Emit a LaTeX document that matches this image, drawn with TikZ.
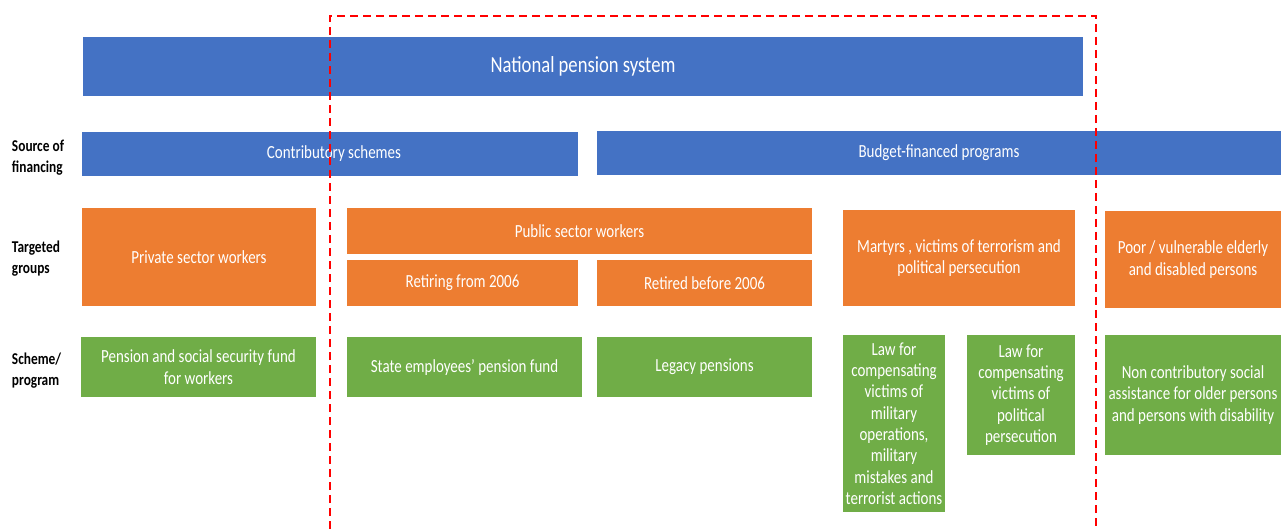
\documentclass[tikz,border=0pt]{standalone}
\usepackage{fontspec}
\setmainfont{Carlito}[FakeStretch=0.81]
\definecolor{pblue}{HTML}{4472C4}
\definecolor{porange}{HTML}{ED7D31}
\definecolor{pgreen}{HTML}{70AD47}
\begin{document}
\begin{tikzpicture}[x=1pt,y=-1pt]
        \tikzstyle{every node}=[inner sep=0pt, outer sep=0pt, align=center, text=white, font=\fontsize{18.5}{21.3}\selectfont]
        \tikzstyle{blue box}=[fill=pblue]
        \tikzstyle{orange box}=[fill=porange]
        \tikzstyle{green box}=[fill=pgreen]
        \tikzstyle{row label}=[anchor=west, align=left, text=black, font=\bfseries\fontsize{16.5}{21}\selectfont]
        \useasboundingbox (0,0) rectangle (1281,529);
        % top level
        \node[blue box, minimum width=1000, minimum height=59, font=\fontsize{23}{26}\selectfont] (nps) at (583,66.5) {National pension system};
        % source of financing
        \node[row label] (srclabel) at (12,157.5) {Source of\\financing};
        \node[blue box, minimum width=496, minimum height=44] (contrib) at (330,154) {\hspace*{8pt}Contributory schemes};
        \node[blue box, minimum width=684, minimum height=44] (budget) at (939,153) {Budget-financed programs};
        % targeted groups
        \node[row label] (grplabel) at (12,259) {Targeted\\groups};
        \node[orange box, minimum width=234, minimum height=98] (private) at (199,257) {Private sector workers};
        \node[orange box, minimum width=465, minimum height=46] (public) at (579.5,231) {Public sector workers};
        \node[orange box, minimum width=231, minimum height=46] (retiring) at (462.5,283) {Retiring from 2006};
        \node[orange box, minimum width=215, minimum height=46] (retired) at (704.5,283) {Retired before 2006};
        \node[orange box, minimum width=232, minimum height=96] (martyrs) at (959,258) {Martyrs , victims of terrorism and\\political persecution};
        \node[orange box, minimum width=176, minimum height=97] (poor) at (1193,259.5) {Poor / vulnerable elderly\\and disabled persons};
        % schemes and programs
        \node[row label] (schlabel) at (12,371) {Scheme/\\program};
        \node[green box, minimum width=235, minimum height=60] (psfund) at (198.5,367) {Pension and social security fund\\for workers};
        \node[green box, minimum width=235, minimum height=60] (stateemp) at (464.5,367) {State employees’ pension fund};
        \node[green box, minimum width=215, minimum height=60] (legacy) at (704.5,367) {Legacy pensions};
        \node[green box, minimum width=102, minimum height=177] (lawmil) at (894,423.5) {Law for\\compensating\\victims of\\military\\operations,\\military\\mistakes and\\terrorist actions};
        \node[green box, minimum width=108, minimum height=120] (lawpol) at (1021,395) {Law for\\compensating\\victims of\\political\\persecution};
        \node[green box, minimum width=176, minimum height=120] (noncontrib) at (1193,395) {Non contributory social\\assistance for older persons\\and persons with disability};
        % scope of the study
        \draw[red, line width=2pt, dash pattern=on 8pt off 5pt] (330,529) -- (330,16) -- (1096,16) -- (1096,529);
\end{tikzpicture}
\end{document}
